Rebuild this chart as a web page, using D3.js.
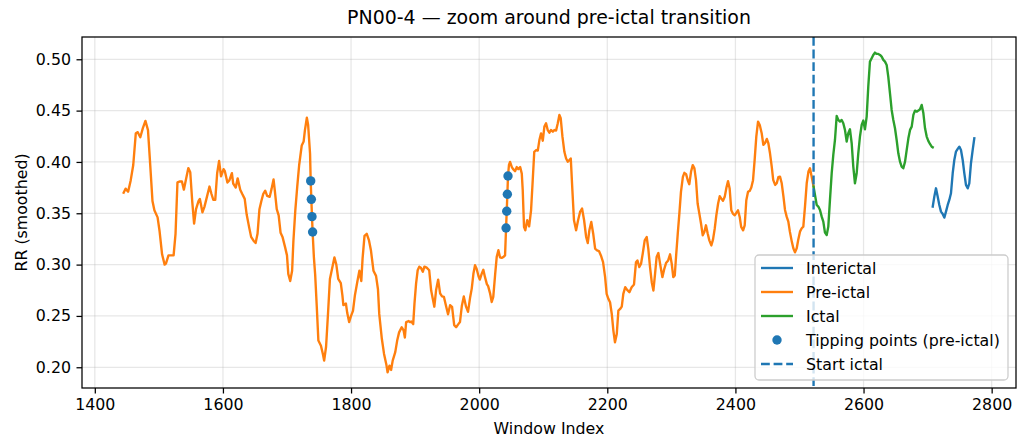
<!DOCTYPE html>
<html>
<head>
<meta charset="utf-8">
<script src="https://cdn.jsdelivr.net/npm/d3@7/dist/d3.min.js"></script>
<style>
  html, body { margin: 0; padding: 0; background: #ffffff; }
  svg { display: block; font-family: "DejaVu Sans", sans-serif; }
</style>
</head>
<body>
<svg id="chart" width="1019" height="441"></svg>
<script>
// RR series, smoothed, by window index
const preIctal = [
  [1445,0.370],[1448,0.374],[1452,0.371],[1456,0.382],[1460,0.397],[1464,0.428],[1467,0.429],[1471,0.424],
  [1475,0.433],[1479,0.440],[1483,0.431],[1486,0.402],[1490,0.362],[1493,0.353],[1498,0.346],[1501,0.333],
  [1505,0.310],[1509,0.300],[1511,0.301],[1515,0.309],[1519,0.309],[1523,0.309],[1526,0.330],[1529,0.380],
  [1533,0.381],[1536,0.381],[1539,0.373],[1543,0.385],[1546,0.394],[1549,0.390],[1552,0.362],[1555,0.340],
  [1558,0.354],[1562,0.362],[1564,0.364],[1568,0.351],[1571,0.356],[1575,0.366],[1579,0.376],[1582,0.369],
  [1585,0.363],[1588,0.363],[1591,0.389],[1594,0.401],[1597,0.386],[1601,0.393],[1603,0.391],[1607,0.380],
  [1610,0.382],[1614,0.389],[1616,0.379],[1620,0.375],[1623,0.384],[1627,0.373],[1630,0.369],[1634,0.364],
  [1637,0.349],[1641,0.336],[1644,0.327],[1648,0.323],[1651,0.321],[1654,0.330],[1657,0.354],[1660,0.362],
  [1663,0.369],[1666,0.372],[1669,0.367],[1673,0.366],[1676,0.374],[1679,0.383],[1681,0.372],[1684,0.354],
  [1687,0.348],[1690,0.331],[1693,0.327],[1697,0.317],[1700,0.309],[1702,0.291],[1705,0.284],[1708,0.294],
  [1710,0.323],[1713,0.353],[1716,0.376],[1719,0.397],[1723,0.416],[1726,0.420],[1728,0.431],[1731,0.443],
  [1733,0.436],[1736,0.408],[1737,0.3815],[1738,0.3636],[1739,0.3467],[1740,0.3318],[1742,0.307],[1744,0.290],
  [1746.5,0.259],[1749,0.226],[1753,0.221],[1756,0.213],[1758,0.2065],[1761,0.220],[1764,0.252],[1767,0.286],
  [1771,0.298],[1774,0.307],[1777,0.300],[1780,0.286],[1784,0.282],[1786.5,0.270],[1788,0.2605],[1792,0.262],
  [1794,0.253],[1797,0.244],[1800,0.250],[1803,0.255],[1806,0.270],[1810,0.284],[1813,0.294],[1816,0.284],
  [1818,0.306],[1821,0.328],[1824.5,0.330],[1828,0.3235],[1831,0.314],[1835,0.294],[1839,0.289],[1842,0.276],
  [1844,0.252],[1848,0.228],[1851.5,0.213],[1855,0.203],[1857,0.195],[1860,0.2016],[1862.5,0.1974],[1865,0.2065],
  [1869,0.2147],[1872,0.226],[1875,0.234],[1879,0.239],[1882,0.236],[1884,0.229],[1886,0.244],[1890,0.245],
  [1892,0.244],[1894,0.2445],[1897,0.242],[1899,0.262],[1901.5,0.2815],[1904,0.2945],[1906.5,0.298],[1909,0.297],
  [1912,0.293],[1914.5,0.298],[1918,0.297],[1922,0.2945],[1925,0.275],[1927.5,0.267],[1930,0.259],[1932.7,0.275],
  [1936,0.2854],[1939,0.272],[1942,0.269],[1945,0.2685],[1948,0.2604],[1951.4,0.2516],[1954.6,0.2604],[1957.7,0.2588],
  [1961,0.241],[1964,0.239],[1967.5,0.242],[1970,0.244],[1973,0.260],[1976,0.269],[1979.5,0.259],[1982.6,0.254],
  [1986,0.2685],[1988.4,0.2766],[1991,0.291],[1993.5,0.2994],[1996,0.296],[1999,0.2886],[2001,0.2854],[2004,0.2912],
  [2006.5,0.295],[2009,0.288],[2012,0.281],[2014,0.279],[2017,0.272],[2019.6,0.2636],[2022,0.2685],[2025,0.291],
  [2027.4,0.3075],[2030,0.314],[2032.6,0.307],[2035,0.3065],[2038,0.3075],[2040.4,0.309],[2042,0.3357],[2043,0.352],
  [2044,0.3685],[2045,0.3863],[2046.5,0.397],[2048.2,0.400],[2051,0.395],[2053,0.393],[2056,0.391],[2058.7,0.395],
  [2061,0.393],[2064,0.395],[2066.5,0.3886],[2068,0.3725],[2070,0.3367],[2072,0.3334],[2075,0.3432],[2078,0.3373],
  [2081,0.3529],[2083.6,0.3822],[2086,0.4099],[2089,0.4116],[2091.5,0.411],[2094,0.4213],[2096.6,0.4278],[2099.3,0.4207],
  [2101.8,0.4344],[2104.4,0.4376],[2107,0.4311],[2109.6,0.4285],[2112,0.4311],[2115,0.4295],[2117.4,0.4311],[2120,0.4305],
  [2122.7,0.4376],[2125.2,0.4458],[2127.3,0.4425],[2130,0.4246],[2133,0.4099],[2135.7,0.4034],[2138.3,0.4002],[2140.8,0.4018],
  [2143,0.4034],[2145.5,0.3725],[2148,0.3432],[2151.3,0.3334],[2154.4,0.3432],[2157.5,0.3513],[2160.6,0.3546],[2163.8,0.3432],
  [2167,0.3269],[2169.5,0.321],[2172,0.3334],[2175,0.3415],[2178,0.3301],[2181,0.3155],[2184,0.3138],[2187,0.3132],
  [2190,0.3089],[2193.4,0.3024],[2196.6,0.2878],[2199,0.2715],[2201.7,0.2666],[2204.3,0.2633],[2207,0.2519],[2209.5,0.2357],
  [2212,0.2243],[2214.8,0.2324],[2217.3,0.2552],[2220,0.2568],[2222.6,0.2591],[2225,0.2715],[2228,0.278],[2231,0.2754],
  [2234.5,0.2731],[2238,0.278],[2241.7,0.2806],[2244.8,0.3024],[2247,0.3041],[2250,0.2976],[2252.7,0.3008],[2255.3,0.3106],
  [2258.4,0.3236],[2261.5,0.3269],[2264,0.3155],[2266.7,0.2976],[2269.4,0.2829],[2272,0.2748],[2274.6,0.2911],[2277,0.3074],
  [2279.7,0.3113],[2282.4,0.3008],[2286,0.2878],[2289,0.2959],[2291.7,0.3015],[2295,0.3041],[2298,0.310],[2300.6,0.3008],
  [2303,0.2878],[2305.3,0.2894],[2307.3,0.3074],[2310,0.3301],[2312.5,0.3497],[2315,0.3709],[2318,0.3855],[2320.3,0.3894],
  [2323,0.3881],[2325.6,0.3822],[2328,0.3783],[2330.7,0.3904],[2333.4,0.3969],[2336,0.3937],[2338.5,0.3822],[2341,0.3595],
  [2343.7,0.3497],[2346.3,0.340],[2349,0.3285],[2351.5,0.3318],[2354,0.3383],[2356.8,0.3301],[2359.3,0.3236],[2362.4,0.3187],
  [2365,0.3243],[2367.7,0.335],[2370.2,0.348],[2373,0.3595],[2375.5,0.3666],[2378,0.3643],[2380.6,0.3621],[2383.3,0.366],
  [2386,0.3751],[2388.5,0.3813],[2391,0.3741],[2393.6,0.3529],[2396,0.3497],[2399,0.348],[2401.4,0.3503],[2404,0.3529],
  [2406.7,0.3464],[2409,0.3367],[2412,0.3334],[2414.5,0.3383],[2417,0.3627],[2419.7,0.3709],[2422.3,0.3718],[2424.8,0.3751],
  [2427.5,0.3822],[2430,0.4018],[2432.6,0.4246],[2435.3,0.4393],[2438,0.436],[2441,0.428],[2443.6,0.4166],[2446,0.4182],
  [2449,0.4224],[2451.4,0.4182],[2454,0.4084],[2456.7,0.3955],[2459,0.3825],[2462,0.3776],[2464.5,0.3792],[2467,0.3851],
  [2469.6,0.3857],[2472.3,0.3792],[2475,0.3662],[2477.4,0.3532],[2480,0.3467],[2482.6,0.3419],[2485,0.3321],[2488,0.3224],
  [2490.4,0.3159],[2493,0.312],[2495.7,0.3159],[2498,0.324],[2500.8,0.3321],[2503.5,0.3354],[2506,0.337],[2508.6,0.3565],
  [2511.3,0.3792],[2514,0.3906],[2516.4,0.3938],[2519,0.3857],[2522,0.376]
];

const ictal = [
  [2522,0.376],[2524.2,0.3679],[2526.9,0.3581],[2529.4,0.3565],[2532,0.3532],[2534.7,0.3467],[2537.2,0.3419],[2539.8,0.3312],
  [2542.5,0.3289],[2545,0.337],[2547.6,0.363],[2550.3,0.389],[2552.8,0.4068],[2555.4,0.4214],[2558.1,0.4448],[2560.6,0.4409],
  [2563.2,0.4393],[2565.9,0.4409],[2568.4,0.4377],[2571,0.4312],[2573.7,0.4198],[2576.2,0.4279],[2578.8,0.4318],[2581.5,0.4182],
  [2584,0.3955],[2586.6,0.3792],[2589.3,0.389],[2591.8,0.4084],[2594.4,0.4247],[2597.1,0.436],[2599.6,0.4403],[2602.2,0.4318],
  [2604.9,0.4442],[2607.4,0.4734],[2610,0.4977],[2612.7,0.501],[2615.2,0.5042],[2617.8,0.5065],[2620.5,0.5052],[2623,0.5052],
  [2625.7,0.5042],[2628.3,0.5026],[2630.9,0.4994],[2633.5,0.4977],[2636.1,0.4945],[2638.6,0.4831],[2641.3,0.4669],[2643.9,0.4506],
  [2646.5,0.4409],[2649.1,0.4328],[2651.7,0.4214],[2654.3,0.4084],[2656.9,0.4003],[2659.5,0.3955],[2662.1,0.3938],[2664.8,0.4003],
  [2667.4,0.4117],[2670,0.423],[2672.6,0.4312],[2675.2,0.4344],[2677.8,0.4458],[2680.3,0.450],[2683,0.449],[2685.6,0.450],
  [2688.2,0.4513],[2690.8,0.4555],[2693.3,0.448],[2696,0.4328],[2698.6,0.4247],[2701.1,0.4205],[2703.7,0.4175],[2706.4,0.4149],
  [2708,0.4143]
];

const interIctal = [
  [2708,0.3565],[2710.5,0.3662],[2713.1,0.3743],[2715.8,0.3662],[2718.3,0.3581],[2720.9,0.3516],[2723.6,0.3493],[2726.1,0.3458],
  [2728.7,0.3516],[2731.4,0.3581],[2733.9,0.363],[2736.5,0.3695],[2739.2,0.389],[2741.7,0.4019],[2744.3,0.4101],[2747,0.4127],
  [2749.5,0.4149],[2752.1,0.4117],[2754.8,0.4019],[2757.3,0.389],[2759.9,0.3776],[2762.6,0.3743],[2765.1,0.3792],[2767.7,0.3987],
  [2770.4,0.4117],[2772.9,0.423]
];

// detected tipping points inside the pre-ictal segment
const tippingX = [1737, 1738, 1739, 1740, 2042, 2043, 2044, 2045];
const tippingY = [0.3815, 0.3636, 0.3467, 0.3318, 0.3357, 0.352, 0.3685, 0.3863];

const ictalStart = 2522;

const xTicks = [1400, 1600, 1800, 2000, 2200, 2400, 2600, 2800];
const yTicks = [0.20, 0.25, 0.30, 0.35, 0.40, 0.45, 0.50];

const titleText = "PN00-4 \u2014 zoom around pre-ictal transition";
const xLabelText = "Window Index";
const yLabelText = "RR (smoothed)";
const legendLabels = ["Interictal", "Pre-ictal", "Ictal", "Tipping points (pre-ictal)", "Start ictal"];

// ---- layout ----
const C = { blue: "#1f77b4", orange: "#ff7f0e", green: "#2ca02c" };
const plot = { left: 82, right: 1016, top: 37, bottom: 388 };
const fs = 15.8;
const lw = 2.37;

const svg = d3.select("#chart");

const x = d3.scaleLinear().domain([1380, 2838]).range([plot.left, plot.right]);
const y = d3.scaleLinear().domain([0.1798, 0.5217]).range([plot.bottom, plot.top]);

svg.append("defs").append("clipPath").attr("id", "plot-clip")
  .append("rect")
  .attr("x", plot.left).attr("y", plot.top)
  .attr("width", plot.right - plot.left).attr("height", plot.bottom - plot.top);

// grid
const grid = svg.append("g").attr("stroke", "#b0b0b0").attr("stroke-opacity", 0.3).attr("stroke-width", 1.26);
grid.selectAll(".gx").data(xTicks).join("line")
  .attr("x1", d => x(d)).attr("x2", d => x(d))
  .attr("y1", plot.top).attr("y2", plot.bottom);
grid.selectAll(".gy").data(yTicks).join("line")
  .attr("x1", plot.left).attr("x2", plot.right)
  .attr("y1", d => y(d)).attr("y2", d => y(d));

// series
const line = d3.line().x(d => x(d[0])).y(d => y(d[1]));
const marks = svg.append("g").attr("clip-path", "url(#plot-clip)");
[[interIctal, C.blue], [preIctal, C.orange], [ictal, C.green]].forEach(([data, color]) => {
  marks.append("path")
    .datum(data)
    .attr("d", line)
    .attr("fill", "none")
    .attr("stroke", color)
    .attr("stroke-width", lw)
    .attr("stroke-linejoin", "round")
    .attr("stroke-linecap", "square");
});

marks.selectAll(".tip").data(tippingX).join("circle")
  .attr("cx", d => x(d))
  .attr("cy", (d, i) => y(tippingY[i]))
  .attr("r", 4.7)
  .attr("fill", C.blue);

marks.append("line")
  .attr("x1", x(ictalStart)).attr("x2", x(ictalStart))
  .attr("y1", plot.top).attr("y2", plot.bottom)
  .attr("stroke", C.blue)
  .attr("stroke-width", lw)
  .attr("stroke-dasharray", "8.8,3.8");

// axes
const xAxis = d3.axisBottom(x).tickValues(xTicks).tickFormat(d3.format("d")).tickSize(5.5).tickPadding(5.5);
const yAxis = d3.axisLeft(y).tickValues(yTicks).tickFormat(d3.format(".2f")).tickSize(5.5).tickPadding(5.5);

const gx = svg.append("g").attr("transform", `translate(0,${plot.bottom})`).call(xAxis);
const gy = svg.append("g").attr("transform", `translate(${plot.left},0)`).call(yAxis);
[gx, gy].forEach(g => {
  g.select(".domain").remove();
  g.selectAll(".tick line").attr("stroke", "#000").attr("stroke-width", 1.26);
  g.selectAll(".tick text")
    .attr("fill", "#000")
    .style("font-family", "'DejaVu Sans', sans-serif")
    .style("font-size", fs + "px");
});

// frame
svg.append("rect")
  .attr("x", plot.left).attr("y", plot.top)
  .attr("width", plot.right - plot.left).attr("height", plot.bottom - plot.top)
  .attr("fill", "none").attr("stroke", "#000").attr("stroke-width", 1.26);

// labels
svg.append("text")
  .attr("x", (plot.left + plot.right) / 2).attr("y", 24)
  .attr("text-anchor", "middle")
  .style("font-size", (fs * 1.2) + "px")
  .text(titleText);

svg.append("text")
  .attr("x", (plot.left + plot.right) / 2).attr("y", 434)
  .attr("text-anchor", "middle")
  .style("font-size", fs + "px")
  .text(xLabelText);

svg.append("text")
  .attr("transform", `translate(27,${(plot.top + plot.bottom) / 2}) rotate(-90)`)
  .attr("text-anchor", "middle")
  .style("font-size", fs + "px")
  .text(yLabelText);

// legend
const lg = { x: 755, y: 255, w: 253, h: 125 };
const legend = svg.append("g");
legend.append("rect")
  .attr("x", lg.x).attr("y", lg.y).attr("width", lg.w).attr("height", lg.h)
  .attr("rx", 4).attr("ry", 4)
  .attr("fill", "#ffffff").attr("fill-opacity", 0.8)
  .attr("stroke", "#cccccc").attr("stroke-width", 1.26);

const hx0 = 761, hx1 = 793, tx = 806;
const rowY = legendLabels.map((_, i) => 268 + i * 24);
const kinds = [
  { type: "line", color: C.blue },
  { type: "line", color: C.orange },
  { type: "line", color: C.green },
  { type: "dot", color: C.blue },
  { type: "dash", color: C.blue }
];
kinds.forEach((k, i) => {
  const cy = rowY[i];
  if (k.type === "dot") {
    legend.append("circle").attr("cx", (hx0 + hx1) / 2).attr("cy", cy).attr("r", 4.7).attr("fill", k.color);
  } else {
    legend.append("line")
      .attr("x1", hx0).attr("x2", hx1).attr("y1", cy).attr("y2", cy)
      .attr("stroke", k.color).attr("stroke-width", lw)
      .attr("stroke-dasharray", k.type === "dash" ? "8.8,3.8" : null);
  }
  legend.append("text")
    .attr("x", tx).attr("y", cy + 5.6)
    .style("font-size", fs + "px")
    .text(legendLabels[i]);
});
</script>
</body>
</html>
